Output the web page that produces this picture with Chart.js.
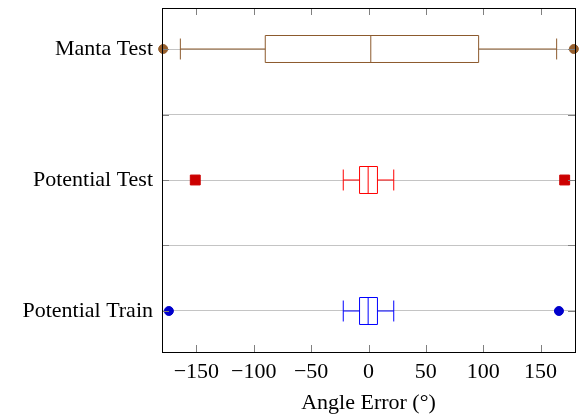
<!DOCTYPE html>
<html>
<head>
<meta charset="utf-8">
<script src="https://cdn.jsdelivr.net/npm/chart.js@4.4.1/dist/chart.umd.min.js"></script>
<style>
  html, body { margin: 0; padding: 0; background: #fff; }
  #wrap { width: 583px; height: 417px; position: relative; }
</style>
</head>
<body>
<div id="wrap"><canvas id="boxChart"></canvas></div>
<script>
// Box plot statistics (angle error, degrees), bottom to top
const categories = ['Potential Train', 'Potential Test', 'Manta Test'];
const whiskerLow = [-22, -22, -164];
const quartile1 = [-7.8, -7.8, -90];
const median = [-0.3, -0.3, 2];
const quartile3 = [7.8, 7.8, 96];
const whiskerHigh = [22, 22, 164];
const outliers = [[-174, 166], [-151, 171], [-179, 179]];
const xTicks = [-150, -100, -50, 0, 50, 100, 150];

const lineColors = ['rgb(0,0,255)', 'rgb(255,0,0)', 'rgb(140,90,45)'];
const markColors = ['rgb(0,0,204)', 'rgb(204,0,0)', 'rgb(150,95,45)'];
const markStyles = ['circle', 'rect', 'circle'];
const markRadius = [4.5, 7, 4.5];

const FONT = "'Liberation Serif', 'Times New Roman', serif";

// draws boxes + whiskers from the arrays through the chart scales
const boxPlugin = {
    id: 'boxes',
    beforeDatasetsDraw(chart) {
        const { ctx, scales: { x, y } } = chart;
        ctx.save();
        ctx.lineWidth = 1;
        categories.forEach(function(cat, i) {
            const yc = y.getPixelForValue(i + 1);
            const bh = Math.abs(y.getPixelForValue(i + 1.103) - yc);
            const ch = Math.abs(y.getPixelForValue(i + 1.08) - yc);
            const xl = x.getPixelForValue(whiskerLow[i]);
            const x1 = x.getPixelForValue(quartile1[i]);
            const xm = x.getPixelForValue(median[i]);
            const x3 = x.getPixelForValue(quartile3[i]);
            const xh = x.getPixelForValue(whiskerHigh[i]);
            ctx.strokeStyle = lineColors[i];
            ctx.fillStyle = '#fff';
            ctx.fillRect(x1, yc - bh, x3 - x1, 2 * bh);
            ctx.beginPath();
            ctx.rect(x1, yc - bh, x3 - x1, 2 * bh);
            ctx.moveTo(xm, yc - bh); ctx.lineTo(xm, yc + bh);
            ctx.moveTo(xl, yc); ctx.lineTo(x1, yc);
            ctx.moveTo(x3, yc); ctx.lineTo(xh, yc);
            ctx.moveTo(xl, yc - ch); ctx.lineTo(xl, yc + ch);
            ctx.moveTo(xh, yc - ch); ctx.lineTo(xh, yc + ch);
            ctx.stroke();
        });
        ctx.restore();
    },
    afterDraw(chart) {
        const { ctx, chartArea: a, scales: { x, y } } = chart;
        ctx.save();
        // inward ticks
        ctx.strokeStyle = '#808080';
        ctx.lineWidth = 1;
        ctx.beginPath();
        x.ticks.forEach(function(t) {
            const px = Math.round(x.getPixelForValue(t.value)) + 0.5;
            ctx.moveTo(px, a.bottom); ctx.lineTo(px, a.bottom - 7);
            ctx.moveTo(px, a.top); ctx.lineTo(px, a.top + 7);
        });
        y.ticks.forEach(function(t) {
            const py = Math.round(y.getPixelForValue(t.value)) + 0.5;
            ctx.moveTo(a.left, py); ctx.lineTo(a.left + 7, py);
            ctx.moveTo(a.right, py); ctx.lineTo(a.right - 7, py);
        });
        ctx.stroke();
        // frame
        ctx.strokeStyle = '#000';
        ctx.strokeRect(Math.round(a.left) + 0.5, Math.round(a.top) + 0.5,
            Math.round(a.right - a.left), Math.round(a.bottom - a.top));
        ctx.restore();
    }
};

const datasets = categories.map(function(cat, i) {
    return {
        label: cat,
        data: outliers[i].map(function(v) { return { x: v, y: i + 1 }; }),
        pointStyle: markStyles[i],
        pointRadius: markRadius[i],
        pointHoverRadius: markRadius[i],
        backgroundColor: markColors[i],
        borderColor: markColors[i],
        borderWidth: 1,
        clip: false
    };
});

new Chart(document.getElementById('boxChart'), {
    type: 'scatter',
    data: { datasets: datasets },
    options: {
        responsive: true,
        maintainAspectRatio: false,
        animation: false,
        layout: { padding: { top: 8, right: 7, left: 0, bottom: 0 } },
        plugins: { legend: { display: false }, tooltip: { enabled: false } },
        scales: {
            x: {
                type: 'linear',
                min: -180,
                max: 180,
                afterBuildTicks: function(scale) {
                    scale.ticks = xTicks.map(function(v) { return { value: v }; });
                },
                afterFit: function(scale) {
                    scale.height = 65;
                    scale.paddingLeft = 0;
                    scale.paddingRight = 0;
                },
                grid: { display: false, drawTicks: false },
                border: { display: false },
                ticks: {
                    padding: 7,
                    color: '#000',
                    font: { family: FONT, size: 22 },
                    maxRotation: 0,
                    callback: function(v) { return v < 0 ? '\u2212' + Math.abs(v) : '' + v; }
                },
                title: {
                    display: true,
                    text: 'Angle Error (°)',
                    color: '#000',
                    font: { family: FONT, size: 22 },
                    padding: { top: 0, bottom: 1 }
                }
            },
            y: {
                type: 'linear',
                min: 0.687,
                max: 3.313,
                afterBuildTicks: function(scale) {
                    scale.ticks = [1, 1.5, 2, 2.5, 3].map(function(v) { return { value: v }; });
                },
                afterFit: function(scale) {
                    scale.width = 162;
                    scale.paddingTop = 0;
                    scale.paddingBottom = 0;
                },
                grid: { color: '#c4c4c4', drawTicks: false },
                border: { display: false },
                ticks: {
                    padding: 9,
                    color: '#000',
                    font: { family: FONT, size: 22 },
                    callback: function(v) {
                        return Number.isInteger(v) ? categories[v - 1] : '';
                    }
                }
            }
        }
    },
    plugins: [boxPlugin]
});
</script>
</body>
</html>
